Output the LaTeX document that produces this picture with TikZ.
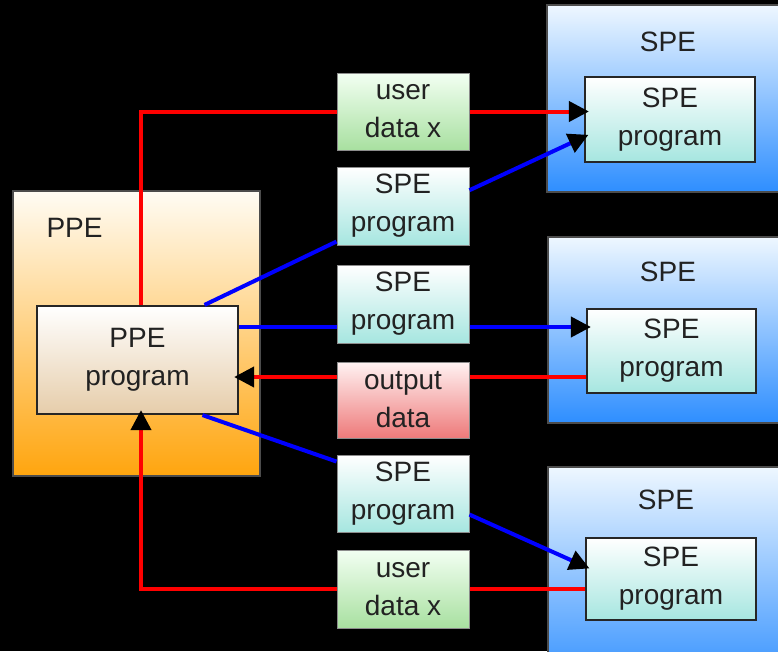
\documentclass[tikz,border=0pt]{standalone}
\usepackage{fontspec}
\setmainfont{Liberation Sans}
\usetikzlibrary{arrows.meta,calc}
\definecolor{ppetop}{HTML}{FFFCF4}
\definecolor{ppebot}{HTML}{FFA50E}
\definecolor{progtop}{HTML}{FFFFFF}
\definecolor{progbot}{HTML}{E6CDAA}
\definecolor{spetop}{HTML}{EEF7FF}
\definecolor{spebot}{HTML}{2E8EFF}
\definecolor{tealbot}{HTML}{A6E6E0}
\definecolor{greenbot}{HTML}{A8E0A0}
\definecolor{redbot}{HTML}{EE7A7A}
\definecolor{txtcol}{HTML}{222222}
\begin{document}
\begin{tikzpicture}[x=1pt,y=-1pt,
  txt/.style={font=\fontsize{28}{38}\selectfont, text=txtcol, align=center},
  box/.style={txt, inner sep=0pt, anchor=center},
  lowtext/.style={execute at begin node={\rule{0pt}{27pt}}},
  ppeouter/.style={box, draw=black!70, line width=1.5pt, top color=ppetop, bottom color=ppebot, minimum width=247pt, minimum height=285pt},
  ppeprogbox/.style={box, lowtext, draw=black!85, line width=2.2pt, top color=white, bottom color=progbot, minimum width=201pt, minimum height=108pt},
  speouter/.style={box, draw=black!70, line width=1.5pt, top color=spetop, bottom color=spebot, minimum width=253pt},
  speprog/.style={box, lowtext, draw=black!85, line width=2.2pt, top color=white, bottom color=tealbot, minimum width=170pt, minimum height=84pt},
  smallbox/.style={box, lowtext, draw=black!45, line width=1pt, minimum width=132pt, minimum height=77pt},
  progsmall/.style={smallbox, top color=white, bottom color=tealbot},
  datasmall/.style={smallbox, top color=white!95!green, bottom color=greenbot},
  outsmall/.style={smallbox, top color=white!95!red, bottom color=redbot},
  redl/.style={draw=red, line width=4pt},
  bluel/.style={draw=blue, line width=4pt},
  arr/.style={-{Triangle[length=20pt,width=20pt,color=black]}, shorten >=-5pt}
]
\fill[black] (0,0) rectangle (778,651);
\useasboundingbox (0,0) rectangle (778,651);
\clip (0,0) rectangle (778,651);

% PPE
\node[ppeouter] (ppe) at (136.5,333.5) {};
\node[txt, anchor=west] (ppelbl) at (43,228) {PPE};
\node[ppeprogbox] (ppeprog) at (137.5,360) {PPE\\program};

% SPEs
\node[speouter, minimum height=187pt] (spe1) at (673.5,98.5) {};
\node[txt] (spe1lbl) at (668,42) {SPE};
\node[speprog, minimum width=170pt, minimum height=85pt] (spe1p) at (670,119.5) {SPE\\program};

\node[speouter, minimum height=186pt] (spe2) at (674.5,330) {};
\node[txt] (spe2lbl) at (668,272) {SPE};
\node[speprog, minimum width=169pt] (spe2p) at (671.5,351) {SPE\\program};

\node[speouter, minimum height=223pt] (spe3) at (674.5,578.5) {};
\node[txt] (spe3lbl) at (666,500) {SPE};
\node[speprog, minimum height=82pt] (spe3p) at (671,579) {SPE\\program};

% middle column
\node[datasmall] (ud1) at (403,111.5) {user\\data x};
\node[progsmall, minimum height=78pt] (sp1) at (403,206) {SPE\\program};
\node[progsmall, minimum height=78pt] (sp2) at (403,304) {SPE\\program};
\node[outsmall, minimum height=76pt] (out) at (403,400) {output\\data};
\node[progsmall] (sp3) at (403,493.5) {SPE\\program};
\node[datasmall, minimum height=78pt] (ud2) at (403,589) {user\\data x};

% helper coordinates
\coordinate (rx) at (141,0);
\coordinate (yb) at (0,327);
\coordinate (yo) at (0,377);

% connectors
\draw[redl] (ppeprog.north -| rx) |- (ud1.west);
\draw[redl,arr] (ud1.east) -- (ud1.east -| spe1p.west);

\draw[bluel] ($(ppeprog.north west)!0.83!(ppeprog.north east)$) -- ($(sp1.north west)!0.95!(sp1.south west)$);
\draw[bluel,arr] ($(sp1.north east)!0.3!(sp1.south east)$) -- ($(spe1p.north west)!0.7!(spe1p.south west)$);

\draw[bluel] (ppeprog.east |- yb) -- (sp2.west |- yb);
\draw[bluel,arr] (sp2.east |- yb) -- (spe2p.west |- yb);

\draw[redl] (spe2p.west |- yo) -- (out.east |- yo);
\draw[redl,arr] (out.west |- yo) -- (ppeprog.east |- yo);

\draw[bluel] ($(ppeprog.south west)!0.82!(ppeprog.south east)$) -- ($(sp3.north west)!0.09!(sp3.south west)$);
\draw[bluel,arr] ($(sp3.north east)!0.77!(sp3.south east)$) -- ($(spe3p.north west)!0.35!(spe3p.south west)$);

\draw[redl] (spe3p.west |- ud2) -- (ud2.east);
\draw[redl,arr] (ud2.west) -| (ppeprog.south -| rx);
\end{tikzpicture}
\end{document}
